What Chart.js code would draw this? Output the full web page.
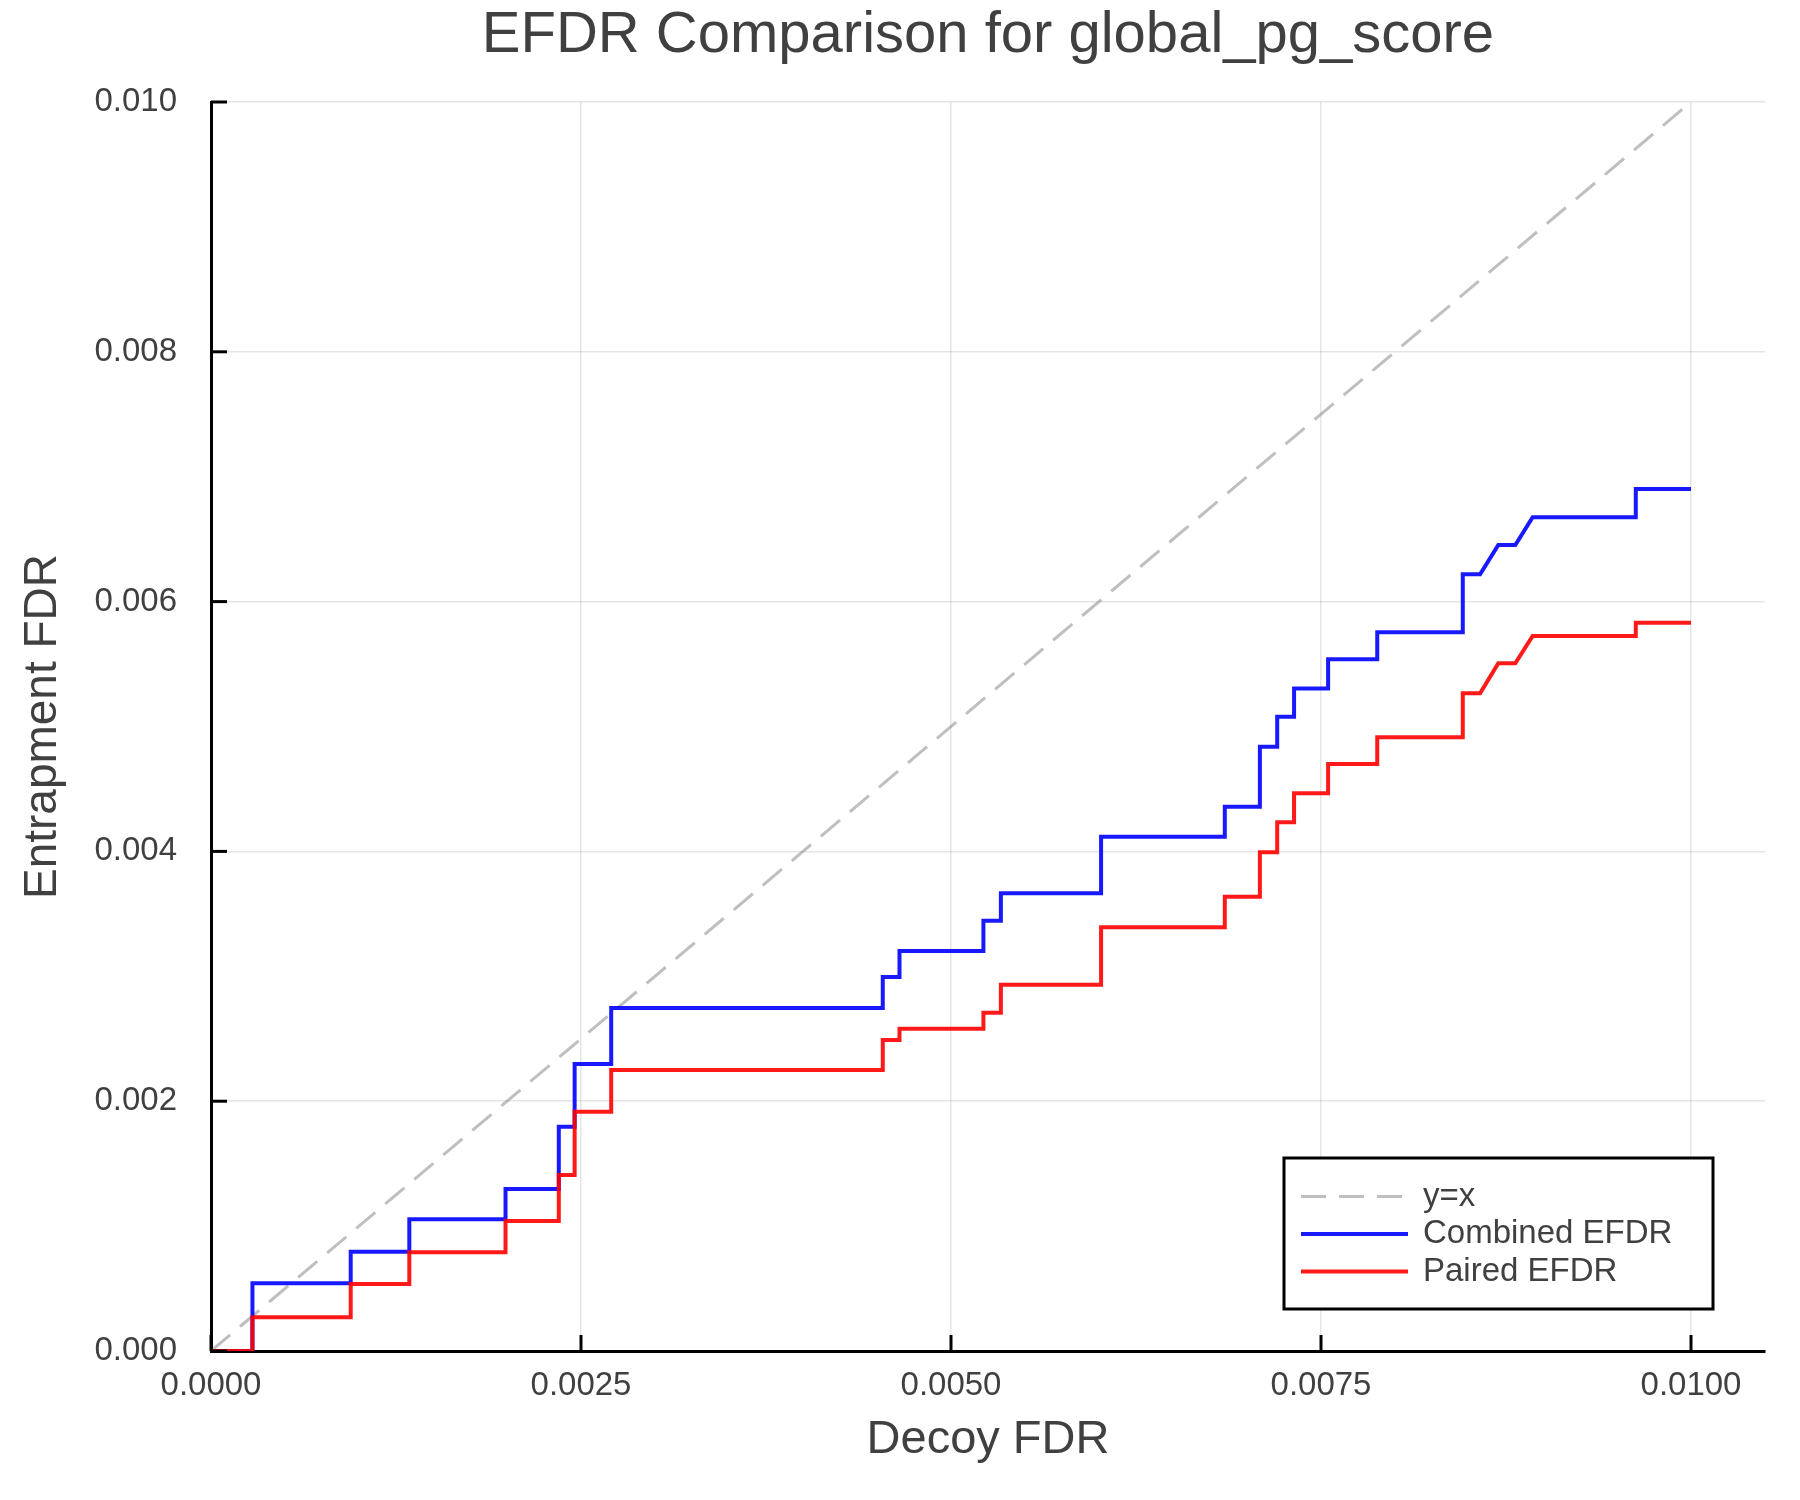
<!DOCTYPE html>
<html>
<head>
<meta charset="utf-8">
<script src="https://cdn.jsdelivr.net/npm/chart.js@4.4.1/dist/chart.umd.min.js"></script>
<style>
html,body{margin:0;padding:0;background:#ffffff;}
#wrap{width:1800px;height:1500px;}
canvas{display:block;}
</style>
</head>
<body>
<div id="wrap"><canvas id="c" width="1800" height="1500"></canvas></div>
<script>
// ---- data ----
const titleText = 'EFDR Comparison for global_pg_score';
const xAxisTitle = 'Decoy FDR';
const yAxisTitle = 'Entrapment FDR';
const seriesLabels = ['y=x', 'Combined EFDR', 'Paired EFDR'];

const diagX = [0, 0.01];
const diagY = [0, 0.01];

const decoyFDR = [0, 0.00028, 0.00028, 0.000944, 0.000944, 0.00134, 0.00134, 0.00199, 0.00199,
  0.00235, 0.00235, 0.002457, 0.002457, 0.002704, 0.002704, 0.004539, 0.004539, 0.004652, 0.004652,
  0.005219, 0.005219, 0.005337, 0.005337, 0.006014, 0.006014, 0.00685, 0.00685, 0.007087, 0.007087,
  0.007204, 0.007204, 0.007318, 0.007318, 0.007548, 0.007548, 0.00788, 0.00788, 0.008458, 0.008458,
  0.008575, 0.008698, 0.008813, 0.00893, 0.009627, 0.009627, 0.01];

const combinedEFDR = [0, 0, 0.000542, 0.000542, 0.000795, 0.000795, 0.001054, 0.001054, 0.001297,
  0.001297, 0.001796, 0.001796, 0.002298, 0.002298, 0.002746, 0.002746, 0.002994, 0.002994, 0.003203,
  0.003203, 0.003445, 0.003445, 0.003664, 0.003664, 0.004118, 0.004118, 0.004358, 0.004358, 0.004838,
  0.004838, 0.005078, 0.005078, 0.005305, 0.005305, 0.005538, 0.005538, 0.005754, 0.005754, 0.006219,
  0.006219, 0.006453, 0.006453, 0.006675, 0.006675, 0.006902, 0.006902];

const pairedEFDR = [0, 0, 0.00027, 0.00027, 0.000536, 0.000536, 0.00079, 0.00079, 0.00104,
  0.00104, 0.00141, 0.00141, 0.001916, 0.001916, 0.00225, 0.00225, 0.00249, 0.00249, 0.00258,
  0.00258, 0.002709, 0.002709, 0.002933, 0.002933, 0.003392, 0.003392, 0.003637, 0.003637, 0.003993,
  0.003993, 0.004233, 0.004233, 0.004465, 0.004465, 0.0047, 0.0047, 0.004913, 0.004913, 0.005266,
  0.005266, 0.005506, 0.005506, 0.005725, 0.005725, 0.005831, 0.005831];

const xTickValues = [0, 0.0025, 0.005, 0.0075, 0.01];
const yTickValues = [0, 0.002, 0.004, 0.006, 0.008, 0.01];

// ---- styling ----
const FONT = '"Liberation Sans", Arial, Helvetica, sans-serif';
const TEXT = '#404040';

const toPts = (xs, ys) => xs.map((x, i) => ({x: x, y: ys[i]}));

const inwardTicks = {
  id: 'inwardTicks',
  afterDatasetsDraw(chart) {
    const {ctx, chartArea: a} = chart;
    const xs = chart.scales.x, ys = chart.scales.y;
    ctx.save();
    ctx.strokeStyle = '#000';
    ctx.lineWidth = 3;
    xs.ticks.forEach(t => {
      const p = xs.getPixelForValue(t.value);
      ctx.beginPath(); ctx.moveTo(p, a.bottom); ctx.lineTo(p, a.bottom - 16); ctx.stroke();
    });
    ys.ticks.forEach(t => {
      const p = ys.getPixelForValue(t.value);
      ctx.beginPath(); ctx.moveTo(a.left, p); ctx.lineTo(a.left + 16, p); ctx.stroke();
    });
    ctx.restore();
  }
};

const boxLegend = {
  id: 'boxLegend',
  afterDraw(chart) {
    const {ctx, chartArea: a} = chart;
    const left = a.right - 481, right = a.right - 52;
    const top = a.bottom - 193, bottom = a.bottom - 42;
    ctx.save();
    ctx.fillStyle = '#ffffff';
    ctx.fillRect(left, top, right - left, bottom - top);
    ctx.strokeStyle = '#000';
    ctx.lineWidth = 3;
    ctx.strokeRect(left, top, right - left, bottom - top);
    ctx.font = '33px ' + FONT;
    ctx.textBaseline = 'middle';
    ctx.textAlign = 'left';
    chart.data.datasets.forEach((ds, i) => {
      const yy = top + 38.5 + i * 37.5;
      ctx.beginPath();
      ctx.strokeStyle = ds.borderColor;
      ctx.lineWidth = ds.borderWidth;
      ctx.setLineDash(ds.borderDash || []);
      ctx.moveTo(left + 17, yy); ctx.lineTo(left + 124, yy);
      ctx.stroke();
      ctx.setLineDash([]);
      ctx.fillStyle = TEXT;
      ctx.fillText(ds.label, left + 139, yy);
    });
    ctx.restore();
  }
};

const chart = new Chart(document.getElementById('c'), {
  type: 'line',
  data: {
    datasets: [
      {label: seriesLabels[0], data: toPts(diagX, diagY), borderColor: 'rgba(128,128,128,0.5)',
       borderWidth: 3, borderDash: [25, 13], pointRadius: 0, order: 2, tension: 0, fill: false},
      {label: seriesLabels[1], data: toPts(decoyFDR, combinedEFDR), borderColor: 'rgba(0,0,255,0.9)',
       borderWidth: 4, pointRadius: 0, order: 1, tension: 0, fill: false},
      {label: seriesLabels[2], data: toPts(decoyFDR, pairedEFDR), borderColor: 'rgba(255,0,0,0.9)',
       borderWidth: 4, pointRadius: 0, order: 0, tension: 0, fill: false}
    ]
  },
  options: {
    responsive: false,
    animation: false,
    devicePixelRatio: 1,
    layout: {padding: {left: 0, right: 35, top: 0, bottom: 0}},
    plugins: {
      legend: {display: false},
      tooltip: {enabled: false},
      title: {
        display: true, text: titleText, fullSize: false, color: TEXT,
        font: {size: 58, family: FONT, weight: 'normal'},
        padding: {top: 1, bottom: 31.4}
      }
    },
    scales: {
      x: {
        type: 'linear', min: 0, max: 0.0105,
        afterBuildTicks: s => { s.ticks = xTickValues.map(v => ({value: v})); },
        afterFit: s => { s.height = 149; },
        ticks: {color: TEXT, font: {size: 33, family: FONT}, padding: 15, maxRotation: 0,
                callback: v => Number(v).toFixed(4)},
        grid: {color: 'rgba(0,0,0,0.1)', lineWidth: 1.5, drawTicks: false},
        border: {display: true, color: '#000', width: 3},
        title: {display: true, text: xAxisTitle, color: TEXT,
                font: {size: 47, family: FONT}, padding: {top: 0, bottom: 32}}
      },
      y: {
        type: 'linear', min: 0, max: 0.01,
        afterBuildTicks: s => { s.ticks = yTickValues.map(v => ({value: v})); },
        afterFit: s => { s.width = 211; },
        ticks: {color: TEXT, font: {size: 33, family: FONT}, padding: 34,
                callback: v => Number(v).toFixed(3)},
        grid: {color: 'rgba(0,0,0,0.1)', lineWidth: 1.5, drawTicks: false},
        border: {display: true, color: '#000', width: 3},
        title: {display: true, text: yAxisTitle, color: TEXT,
                font: {size: 46, family: FONT}, padding: {top: 16, bottom: 0}}
      }
    }
  },
  plugins: [inwardTicks, boxLegend]
});
</script>
</body>
</html>
